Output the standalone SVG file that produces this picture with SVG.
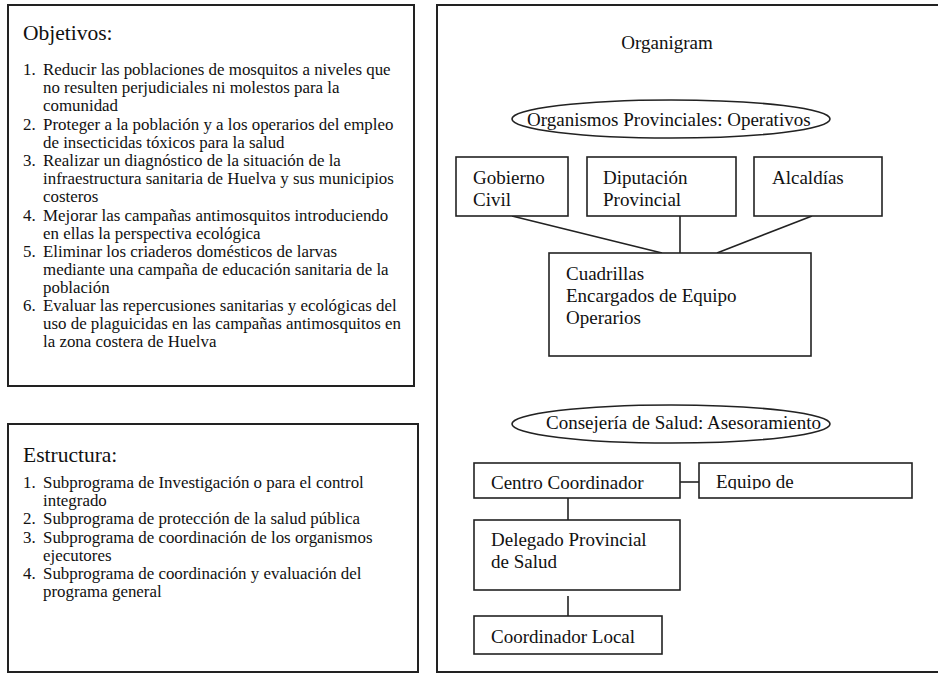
<svg xmlns="http://www.w3.org/2000/svg" width="938" height="673" viewBox="0 0 938 673">
<style>
.frame{fill:#fff;stroke:#222;stroke-width:2}
.box{fill:#fff;stroke:#222;stroke-width:1.6}
.con{stroke:#222;stroke-width:1.6;fill:none}
text{font-family:"Liberation Serif","Times New Roman",serif;fill:#111}
.h{font-size:21.5px}
.l{font-size:16.9px}
.n{font-size:19px}
</style>
<defs>
<clipPath id="clipEq"><rect x="699" y="463" width="214" height="26.5"/></clipPath>
</defs>
<rect width="938" height="673" fill="#fff"/>

<g id="objetivos">
<rect class="frame" x="8" y="5" width="406" height="381"/>
<text class="h" x="23" y="40">Objetivos:</text>
<g class="l">
<text x="23" y="75">1.</text><text x="43" y="75">Reducir las poblaciones de mosquitos a niveles que</text>
<text x="43" y="93">no resulten perjudiciales ni molestos para la</text>
<text x="43" y="111">comunidad</text>
<text x="23" y="130">2.</text><text x="43" y="130">Proteger a la población y a los operarios del empleo</text>
<text x="43" y="148">de insecticidas tóxicos para la salud</text>
<text x="23" y="166">3.</text><text x="43" y="166">Realizar un diagnóstico de la  situación de la</text>
<text x="43" y="184">infraestructura sanitaria de Huelva y sus municipios</text>
<text x="43" y="202">costeros</text>
<text x="23" y="221">4.</text><text x="43" y="221">Mejorar las campañas antimosquitos introduciendo</text>
<text x="43" y="239">en ellas la perspectiva ecológica</text>
<text x="23" y="257">5.</text><text x="43" y="257">Eliminar los criaderos domésticos de larvas</text>
<text x="43" y="275">mediante una campaña de educación sanitaria de la</text>
<text x="43" y="293">población</text>
<text x="23" y="311">6.</text><text x="43" y="311">Evaluar las repercusiones sanitarias y ecológicas del</text>
<text x="43" y="329">uso de plaguicidas en las campañas antimosquitos en</text>
<text x="43" y="347">la zona costera de Huelva</text>
</g>
</g>

<g id="estructura">
<rect class="frame" x="8" y="424" width="410" height="248"/>
<text class="h" x="23" y="462">Estructura:</text>
<g class="l">
<text x="23" y="488">1.</text><text x="43" y="488">Subprograma de Investigación o para el control</text>
<text x="43" y="506">integrado</text>
<text x="23" y="524">2.</text><text x="43" y="524">Subprograma de protección de la salud pública</text>
<text x="23" y="543">3.</text><text x="43" y="543">Subprograma de coordinación de los organismos</text>
<text x="43" y="561">ejecutores</text>
<text x="23" y="579">4.</text><text x="43" y="579">Subprograma de coordinación y evaluación del</text>
<text x="43" y="597">programa general</text>
</g>
</g>

<g id="organigram-frame">
<path class="frame" d="M940 5 H437 V672 H940"/>
<text class="n" x="667" y="49" text-anchor="middle">Organigram</text>
</g>

<g id="connectors">
<line class="con" x1="512" y1="216" x2="662" y2="253"/>
<line class="con" x1="680" y1="216" x2="680" y2="253"/>
<line class="con" x1="812" y1="216" x2="717" y2="253"/>
<line class="con" x1="680" y1="482" x2="699" y2="482"/>
<line class="con" x1="568" y1="498" x2="568" y2="520"/>
<line class="con" x1="568" y1="596" x2="568" y2="616"/>
</g>

<g id="organismos">
<ellipse class="box" cx="671" cy="119" rx="159" ry="19"/>
<text class="n" x="527" y="126">Organismos Provinciales: Operativos</text>
</g>

<g id="gobierno">
<rect class="box" x="456" y="157" width="112" height="59"/>
<text class="n" x="473" y="184">Gobierno</text>
<text class="n" x="473" y="206">Civil</text>
</g>

<g id="diputacion">
<rect class="box" x="587" y="157" width="149" height="59"/>
<text class="n" x="603" y="184">Diputación</text>
<text class="n" x="603" y="206">Provincial</text>
</g>

<g id="alcaldias">
<rect class="box" x="754" y="157" width="128" height="59"/>
<text class="n" x="772" y="184">Alcaldías</text>
</g>

<g id="cuadrillas">
<rect class="box" x="549" y="253" width="262" height="103"/>
<text class="n" x="566" y="280">Cuadrillas</text>
<text class="n" x="566" y="302">Encargados de Equipo</text>
<text class="n" x="566" y="324">Operarios</text>
</g>

<g id="consejeria">
<ellipse class="box" cx="671" cy="424" rx="159" ry="19"/>
<text class="n" x="546" y="429">Consejería de Salud: Asesoramiento</text>
</g>

<g id="centro">
<rect class="box" x="474" y="463" width="206" height="35"/>
<text class="n" x="491" y="489">Centro Coordinador</text>
</g>

<g id="equipo">
<rect class="box" x="699" y="463" width="213" height="35"/>
<text class="n" x="716" y="488" clip-path="url(#clipEq)">Equipo de</text>
</g>

<g id="delegado">
<rect class="box" x="474" y="520" width="206" height="70"/>
<text class="n" x="491" y="546">Delegado Provincial</text>
<text class="n" x="491" y="568">de Salud</text>
</g>

<g id="coordinador">
<rect class="box" x="474" y="616" width="188" height="38"/>
<text class="n" x="491" y="643">Coordinador Local</text>
</g>
</svg>
